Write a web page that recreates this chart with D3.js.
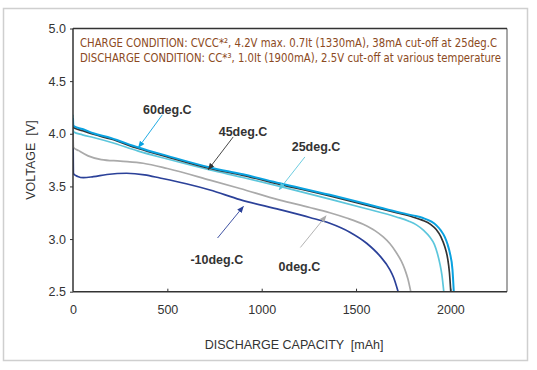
<!DOCTYPE html>
<html><head><meta charset="utf-8">
<script src="https://cdn.jsdelivr.net/npm/d3@7"></script>
<style>body{margin:0;background:#fff}svg{display:block}text{white-space:pre}</style>
</head><body>
<svg id="c" width="537" height="370"></svg>
<script>
// ---- data ----
const xTicks = [0, 500, 1000, 1500, 2000];
const yTicks = [2.5, 3.0, 3.5, 4.0, 4.5, 5.0];

const cap60 = [0, 2, 50, 108, 200, 346, 500, 726, 900, 1096, 1361, 1550, 1714, 1800, 1855, 1900, 1926, 1950, 1970, 1985, 1997, 2011, 2018];
const volt60 = [4.15, 4.075, 4.045, 4.005, 3.96, 3.87, 3.79, 3.68, 3.615, 3.53, 3.42, 3.335, 3.26, 3.225, 3.20, 3.165, 3.13, 3.08, 3.02, 2.95, 2.87, 2.71, 2.5];

const cap45 = [0, 2, 50, 108, 200, 346, 500, 726, 900, 1096, 1361, 1550, 1714, 1800, 1850, 1895, 1925, 1950, 1970, 1985, 1995, 2002];
const volt45 = [4.1, 4.06, 4.03, 3.995, 3.95, 3.86, 3.78, 3.67, 3.605, 3.52, 3.41, 3.325, 3.25, 3.21, 3.18, 3.14, 3.09, 3.02, 2.93, 2.82, 2.68, 2.5];

const cap25 = [0, 2, 50, 108, 200, 346, 500, 726, 900, 1096, 1361, 1550, 1714, 1780, 1820, 1860, 1891, 1915, 1930, 1945, 1955, 1965];
const volt25 = [4.18, 4.02, 3.99, 3.965, 3.92, 3.835, 3.76, 3.656, 3.585, 3.50, 3.38, 3.29, 3.21, 3.17, 3.135, 3.08, 3.02, 2.95, 2.87, 2.76, 2.66, 2.5];

const cap0 = [0, 3, 30, 80, 150, 250, 372, 500, 726, 885, 1096, 1255, 1361, 1450, 1538, 1600, 1644, 1680, 1714, 1740, 1759, 1775, 1790];
const volt0 = [4.0, 3.87, 3.84, 3.79, 3.755, 3.74, 3.72, 3.67, 3.56, 3.48, 3.37, 3.30, 3.25, 3.20, 3.14, 3.08, 3.02, 2.955, 2.87, 2.79, 2.71, 2.62, 2.5];

const capM10 = [0, 3, 25, 55, 108, 180, 284, 380, 461, 600, 726, 885, 1096, 1255, 1361, 1467, 1556, 1626, 1679, 1700, 1723];
const voltM10 = [4.05, 3.62, 3.595, 3.583, 3.593, 3.613, 3.625, 3.61, 3.58, 3.525, 3.466, 3.375, 3.28, 3.205, 3.15, 3.065, 2.96, 2.84, 2.71, 2.63, 2.5];

const seriesNames = ["-10deg.C", "0deg.C", "25deg.C", "45deg.C", "60deg.C"];
const seriesCaps = [capM10, cap0, cap25, cap45, cap60];
const seriesVolts = [voltM10, volt0, volt25, volt45, volt60];
const seriesColors = ["#2b4199", "#aaaaaa", "#5cc6dc", "#333333", "#0aa2e0"];

// label anchor [x mAh, y V] and arrow start/end [x,y]->[x,y]
const labelPos = [[762, 2.80], [1200, 2.74], [1288, 3.88], [901, 4.02], [500, 4.23]];
const arrowFrom = [[766, 3.01], [1205, 2.92], [1229, 3.78], [849, 3.97], [473, 4.18]];
const arrowTo = [[903, 3.31], [1341, 3.22], [1093, 3.47], [717, 3.66], [347, 3.87]];

const noteLines = [
  "CHARGE CONDITION: CVCC*², 4.2V max. 0.7It (1330mA), 38mA cut-off at 25deg.C",
  "DISCHARGE CONDITION: CC*³, 1.0It (1900mA), 2.5V cut-off at various temperature"
];
const xTitle = "DISCHARGE CAPACITY  [mAh]";
const yTitle = "VOLTAGE  [V]";

// ---- drawing ----
const svg = d3.select("#c");
const L = 73, R = 507, T = 28.5, B = 291.7;
const x = d3.scaleLinear().domain([0, 2300]).range([L, R]);
const y = d3.scaleLinear().domain([2.5, 5.0]).range([B, T]);

// outer frame
svg.append("rect").attr("x", 3.5).attr("y", 8.5).attr("width", 524).attr("height", 352)
  .attr("fill", "none").attr("stroke", "#cfcfcf").attr("stroke-width", 1.5);

// defs markers
const defs = svg.append("defs");
seriesColors.forEach((c, i) => {
  defs.append("marker").attr("id", "ah" + i).attr("viewBox", "0 0 10 10")
    .attr("refX", 9).attr("refY", 5).attr("markerWidth", 7).attr("markerHeight", 7)
    .attr("markerUnits", "userSpaceOnUse").attr("orient", "auto")
    .append("path").attr("d", "M0,1L10,5L0,9Z").attr("fill", c);
});

// clip
defs.append("clipPath").attr("id", "clip").append("rect")
  .attr("x", L).attr("y", T - 20).attr("width", R - L).attr("height", B - T + 20);

// curves
const line = d3.line().x(d => x(d[0])).y(d => y(d[1])).curve(d3.curveMonotoneX);
seriesCaps.forEach((caps, i) => {
  const pts = caps.map((c, j) => [c, seriesVolts[i][j]]);
  svg.append("path").attr("d", line(pts)).attr("fill", "none")
    .attr("stroke", seriesColors[i]).attr("stroke-width", i === 4 ? 2 : 1.7)
    .attr("clip-path", "url(#clip)");
});

// axes frame
svg.append("line").attr("x1", R).attr("x2", R).attr("y1", T).attr("y2", B).attr("stroke", "#8a8a8a").attr("stroke-width", 1.5);
svg.append("line").attr("x1", L).attr("x2", R).attr("y1", T).attr("y2", T).attr("stroke", "#333").attr("stroke-width", 1.5);
svg.append("line").attr("x1", L).attr("x2", L).attr("y1", T).attr("y2", B).attr("stroke", "#333").attr("stroke-width", 1.5);
svg.append("line").attr("x1", L).attr("x2", R).attr("y1", B).attr("y2", B).attr("stroke", "#333").attr("stroke-width", 1.5);

// y axis ticks (outside)
const yAxis = d3.axisLeft(y).tickValues(yTicks).tickFormat(d3.format(".1f")).tickSize(3).tickPadding(4);
const gy = svg.append("g").attr("transform", `translate(${L},0)`).call(yAxis);
gy.select(".domain").remove();
gy.selectAll("line").attr("stroke", "#333");
gy.selectAll("text").attr("font-family", "Liberation Sans, Arial, sans-serif").attr("font-size", 12.5).attr("fill", "#333");

// x axis ticks (inside)
const xAxis = d3.axisBottom(x).tickValues(xTicks).tickFormat(d3.format("d")).tickSize(-3).tickPadding(0);
const gx = svg.append("g").attr("transform", `translate(0,${B})`).call(xAxis);
gx.select(".domain").remove();
gx.selectAll("line").attr("stroke", "#333");
gx.selectAll("text").attr("font-family", "Liberation Sans, Arial, sans-serif").attr("font-size", 12.5).attr("fill", "#333")
  .attr("dy", null).attr("y", 22);
gx.selectAll(".tick").filter(d => d === 0).select("line").remove();

// axis titles
svg.append("text").attr("x", x(1172)).attr("y", 349).attr("text-anchor", "middle")
  .attr("font-family", "Liberation Sans, Arial, sans-serif").attr("font-size", 12.5).attr("fill", "#333").text(xTitle);
svg.append("text").attr("transform", `translate(35,${(T + B) / 2}) rotate(-90)`).attr("text-anchor", "middle")
  .attr("font-family", "Liberation Sans, Arial, sans-serif").attr("font-size", 12.5).attr("fill", "#333").text(yTitle);

// notes
const noteWidths = [417, 421];
noteLines.forEach((t, i) => {
  svg.append("text").attr("x", 80).attr("y", 47 + i * 15)
    .attr("font-family", "Liberation Sans Narrow, DejaVu Sans Condensed, Arial Narrow, sans-serif")
    .attr("font-size", 12).attr("fill", "#8c4a22")
    .attr("textLength", noteWidths[i]).attr("lengthAdjust", "spacingAndGlyphs").text(t);
});

// labels and arrows
seriesNames.forEach((n, i) => {
  svg.append("line").attr("x1", x(arrowFrom[i][0])).attr("y1", y(arrowFrom[i][1]))
    .attr("x2", x(arrowTo[i][0])).attr("y2", y(arrowTo[i][1]))
    .attr("stroke", seriesColors[i]).attr("stroke-width", 0.9).attr("marker-end", `url(#ah${i})`);
  svg.append("text").attr("x", x(labelPos[i][0])).attr("y", y(labelPos[i][1])).attr("dy", "0.35em")
    .attr("text-anchor", "middle").attr("font-family", "Liberation Sans, Arial, sans-serif")
    .attr("font-weight", "bold").attr("font-size", 12.5).attr("fill", "#333").text(n);
});
</script>
</body></html>
